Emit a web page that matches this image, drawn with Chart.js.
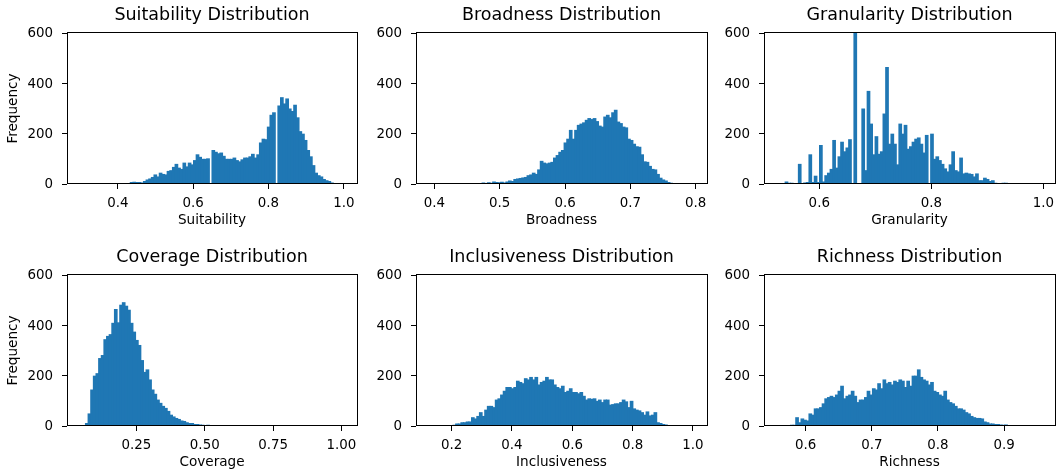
<!DOCTYPE html>
<html><head><meta charset="utf-8">
<script src="https://cdn.jsdelivr.net/npm/chart.js@4.4.1/dist/chart.umd.min.js"></script>
<style>
html,body{margin:0;padding:0;background:#fff;overflow:hidden;width:1056px;height:474px}
canvas{position:absolute}
</style></head><body>
<script>
// ---------- data ----------
const titles = ['Suitability Distribution','Broadness Distribution','Granularity Distribution',
                'Coverage Distribution','Inclusiveness Distribution','Richness Distribution'];
const xLabels = ['Suitability','Broadness','Granularity','Coverage','Inclusiveness','Richness'];
const yLabel = 'Frequency';

const binStarts = [0.3, 0.392, 0.525, 0.044, 0.1255, 0.557];
const binWidths = [0.007, 0.00405, 0.00472, 0.00965, 0.00877, 0.004];
const xMins = [0.265, 0.3718, 0.5014, -0.0043, 0.0818, 0.537];
const xMaxs = [1.035, 0.8173, 1.0206, 1.0573, 1.0465, 0.977];

const xTickValues = [[0.4,0.6,0.8,1.0],[0.4,0.5,0.6,0.7,0.8],[0.6,0.8,1.0],
                     [0.25,0.5,0.75,1.0],[0.2,0.4,0.6,0.8,1.0],[0.6,0.7,0.8,0.9]];
const xTickLabels = [['0.4','0.6','0.8','1.0'],['0.4','0.5','0.6','0.7','0.8'],['0.6','0.8','1.0'],
                     ['0.25','0.50','0.75','1.00'],['0.2','0.4','0.6','0.8','1.0'],['0.6','0.7','0.8','0.9']];
const yTickValues = [0,200,400,600];
const yTickLabels = ['0','200','400','600'];

const suitabilityCounts = [
1,0,0,1,0,1,1,0,1,2,
1,1,2,1,2,2,3,3,4,8,
9,8,8,6,12,18,22,28,38,30,
45,40,38,52,55,68,80,65,60,85,
70,85,78,95,118,108,100,100,102,0,
135,128,122,125,112,100,100,100,105,95,
90,98,105,105,110,120,105,118,165,180,
178,228,275,285,0,312,345,320,340,300,
290,315,265,210,200,175,135,110,75,45,
35,30,20,15,12,6,3,1,0,1];
const broadnessCounts = [
0,0,0,0,0,0,0,0,0,0,
0,0,0,0,1,0,1,1,2,4,
6,3,7,5,10,8,7,9,6,10,
14,12,20,22,24,26,28,35,38,45,
40,58,92,85,82,85,88,105,115,128,
135,165,180,215,180,215,235,240,245,255,
262,258,262,250,232,228,268,275,265,285,
295,248,242,228,225,180,175,160,150,148,
118,90,88,72,60,58,40,25,18,14,
8,5,3,2,1,1,0,0,0,1];
const granularityCounts = [
0,0,0,10,5,5,0,0,80,0,
6,8,118,8,33,8,155,10,35,45,
60,175,65,110,168,130,145,178,0,620,
0,0,300,55,370,240,118,190,120,130,
280,465,160,200,160,78,240,200,235,140,
150,168,180,185,160,125,195,0,200,100,
110,95,80,62,50,78,130,55,50,105,
42,45,42,40,30,42,15,15,25,20,
12,15,5,4,4,5,5,2,1,0,
0,0,0,0,0,0,0,0,0,1];
const coverageCounts = [
0,2,12,50,145,200,210,270,282,345,
358,365,410,465,412,482,492,478,462,410,
375,342,322,262,215,225,185,145,128,105,
92,80,72,60,45,38,32,28,22,20,
15,12,12,8,8,6,5,4,5,3,
3,4,2,2,3,2,1,1,0,1,
0,1,0,0,0,0,0,0,0,0,
0,0,0,0,0,0,0,0,0,0,
0,0,0,0,0,0,0,0,0,0,
0,0,0,0,0,0,0,0,0,1];
const inclusivenessCounts = [
0,0,0,1,0,1,1,2,2,5,
10,10,15,15,18,18,35,30,40,55,
40,65,80,80,75,105,110,125,140,155,
155,150,155,180,175,170,190,185,195,185,
195,165,175,180,195,185,185,165,155,150,
160,135,140,150,135,135,130,135,120,105,
110,108,110,100,105,95,105,105,85,87,
90,90,95,105,98,75,100,70,65,62,
55,45,58,42,45,55,15,12,8,6,
3,2,1,1,0,0,0,0,0,1];
const richnessCounts = [
0,0,1,2,3,5,5,35,15,30,
25,22,50,45,70,70,75,90,110,115,
120,115,125,140,160,110,120,125,140,120,
95,105,105,115,140,125,150,145,170,150,
185,170,175,165,180,175,185,180,155,180,
160,200,200,225,195,185,180,165,175,140,
135,125,120,140,105,95,90,80,70,70,
65,55,50,40,35,32,32,30,18,15,
10,10,8,8,6,5,6,3,2,1,
1,1,0,0,0,0,0,0,0,1];
const allCounts = [suitabilityCounts, broadnessCounts, granularityCounts,
                   coverageCounts, inclusivenessCounts, richnessCounts];

// ---------- layout ----------
const FONT = "'DejaVu Sans', sans-serif";
const cols = [{left:0, yW:67, plotW:290, rightPad:3},
              {left:366, yW:50, plotW:291, rightPad:3},
              {left:714, yW:50, plotW:291, rightPad:1}];
const rows = [{top:0, xH:50, titlePad:5.6}, {top:242, xH:48, titlePad:3.6}];
const TITLE_H = 33, PLOT_H = 151;

const framePlugin = {
  id: 'frame',
  afterDraw(chart) {
    const {ctx, chartArea: a} = chart;
    ctx.save();
    ctx.strokeStyle = '#000';
    ctx.lineWidth = 1;
    ctx.strokeRect(a.left + 0.5, a.top - 0.5, a.right - a.left, a.bottom - a.top);
    ctx.restore();
  }
};

for (let p = 0; p < 6; p++) {
  const col = cols[p % 3], row = rows[Math.floor(p / 3)];
  const w = col.yW + col.plotW + col.rightPad;
  const h = TITLE_H + PLOT_H + row.xH;
  const cv = document.createElement('canvas');
  cv.width = w; cv.height = h;
  cv.style.left = col.left + 'px'; cv.style.top = row.top + 'px';
  cv.style.width = w + 'px'; cv.style.height = h + 'px';
  document.body.appendChild(cv);

  const counts = allCounts[p];
  const pts = counts.map((c, i) => ({x: binStarts[p] + binWidths[p] * (i + 0.5), y: c}));
  const tickVals = xTickValues[p], tickLabs = xTickLabels[p];

  new Chart(cv.getContext('2d'), {
    type: 'bar',
    data: { datasets: [{ data: pts, backgroundColor: '#1f77b4', borderWidth: 0,
                         barPercentage: 1.4, categoryPercentage: 1.0, inflateAmount: 0 }] },
    options: {
      responsive: false, animation: false, devicePixelRatio: 1,
      layout: { padding: {left: 0, right: col.rightPad, top: 0, bottom: 0} },
      plugins: {
        legend: {display: false}, tooltip: {enabled: false},
        title: { display: true, fullSize: false, text: titles[p], color: '#000',
                 font: {family: FONT, size: 17.5, weight: 'normal'},
                 padding: {top: 5, bottom: 7} }
      },
      scales: {
        x: {
          type: 'linear', min: xMins[p], max: xMaxs[p], offset: false,
          grid: {display: true, drawOnChartArea: false, drawTicks: true, tickLength: 5,
                 color: '#000', lineWidth: 1, offset: false},
          border: {display: false},
          ticks: { color: '#000', font: {family: FONT, size: 13.4}, padding: 6,
                   maxRotation: 0, autoSkip: false,
                   callback: (v, i) => tickLabs[i] },
          title: { display: true, text: xLabels[p], color: '#000',
                   font: {family: FONT, size: 13.6}, padding: {top: 0, bottom: row.titlePad} },
          afterBuildTicks: s => { s.ticks = tickVals.map(v => ({value: v})); },
          afterFit: s => { s.height = row.xH; s.paddingLeft = 0; s.paddingRight = 0; }
        },
        y: {
          min: 0, max: 600,
          grid: {display: true, drawOnChartArea: false, drawTicks: true, tickLength: 5,
                 color: '#000', lineWidth: 1},
          border: {display: false},
          ticks: { color: '#000', font: {family: FONT, size: 13.4}, padding: 9, labelOffset: 1,
                   autoSkip: false, callback: (v, i) => yTickLabels[i] },
          title: { display: p % 3 === 0, text: yLabel, color: '#000',
                   font: {family: FONT, size: 13.6}, padding: {top: 5.6, bottom: 0} },
          afterBuildTicks: s => { s.ticks = yTickValues.map(v => ({value: v})); },
          afterFit: s => { s.width = col.yW; s.paddingTop = 0; s.paddingBottom = 0; }
        }
      }
    },
    plugins: [framePlugin]
  });
}
</script>
</body></html>
